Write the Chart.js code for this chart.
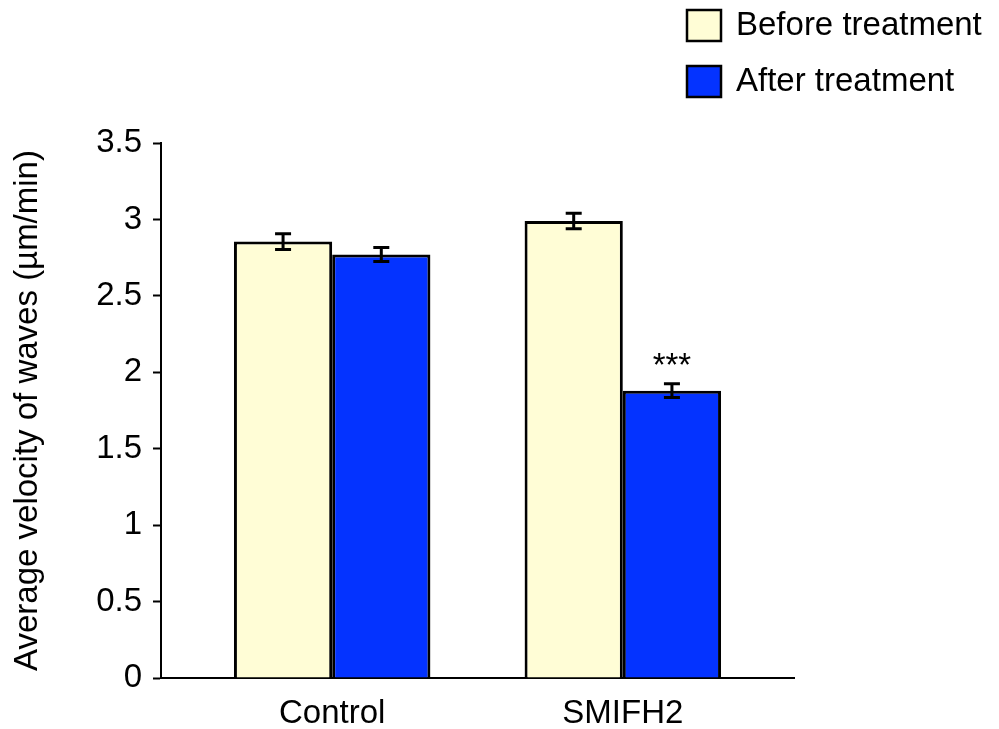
<!DOCTYPE html>
<html>
<head>
<meta charset="utf-8">
<script src="https://cdn.jsdelivr.net/npm/chart.js@4/dist/chart.umd.min.js"></script>
<style>
html,body{margin:0;padding:0;background:#fff;}
#wrap{width:999px;height:729px;position:relative;}
</style>
</head>
<body>
<div id="wrap"><canvas id="c"></canvas></div>
<script>
// ---- data ----
const categories = ['Control', 'SMIFH2'];
const seriesNames = ['Before treatment', 'After treatment'];
const beforeValues = [2.855, 2.99];
const afterValues = [2.77, 1.88];
const beforeErrors = [0.052, 0.051];
const afterErrors = [0.046, 0.045];
const significance = ['', '***']; // for the "after" series
const yTicks = [0, 0.5, 1, 1.5, 2, 2.5, 3, 3.5];
const yTitle = 'Average velocity of waves (\u00b5m/min)';

const FONT = '"Liberation Sans", Arial, sans-serif';
const beforeColor = '#FFFDD6';
const afterColor = '#0433FF';

function toPoints(vals){ return vals.map((v,i)=>({x:i+1, y:v})); }

const errorBarPlugin = {
  id: 'errorBars',
  afterDatasetsDraw(chart){
    const ctx = chart.ctx;
    const y = chart.scales.y;
    const errs = [beforeErrors, afterErrors];
    ctx.save();
    ctx.strokeStyle = '#000';
    ctx.lineWidth = 3;
    chart.data.datasets.forEach((ds, di) => {
      const meta = chart.getDatasetMeta(di);
      meta.data.forEach((bar, i) => {
        const v = ds.data[i].y, e = errs[di][i];
        const yt = y.getPixelForValue(v + e), yb = y.getPixelForValue(v - e);
        const x = bar.x, hw = 8;
        ctx.beginPath();
        ctx.moveTo(x, yt); ctx.lineTo(x, yb);
        ctx.moveTo(x-hw, yt); ctx.lineTo(x+hw, yt);
        ctx.moveTo(x-hw, yb); ctx.lineTo(x+hw, yb);
        ctx.stroke();
        if (di === 1 && significance[i]) {
          ctx.fillStyle = '#000';
          ctx.font = '33px ' + FONT;
          ctx.textAlign = 'center';
          ctx.textBaseline = 'alphabetic';
          ctx.fillText(significance[i], x, yt - 8);
        }
      });
    });
    ctx.restore();
  }
};

const legendPlugin = {
  id: 'customLegend',
  afterDraw(chart){
    const ctx = chart.ctx;
    ctx.save();
    const colors = [beforeColor, afterColor];
    const rows = [10, 66];
    seriesNames.forEach((name, i) => {
      const top = rows[i];
      ctx.fillStyle = colors[i];
      ctx.fillRect(687, top, 34, 31);
      ctx.strokeStyle = '#000';
      ctx.lineWidth = 2.5;
      ctx.strokeRect(687, top, 34, 31);
      ctx.fillStyle = '#000';
      ctx.font = '33px ' + FONT;
      ctx.textAlign = 'left';
      ctx.textBaseline = 'middle';
      ctx.fillText(name, 736, top + 16);
    });
    ctx.restore();
  }
};

new Chart(document.getElementById('c'), {
  type: 'bar',
  data: {
    datasets: [
      { label: seriesNames[0], data: toPoints(beforeValues), backgroundColor: beforeColor,
        borderColor: '#000', borderWidth: 3, borderSkipped: 'bottom' },
      { label: seriesNames[1], data: toPoints(afterValues), backgroundColor: afterColor,
        borderColor: '#000', borderWidth: 3, borderSkipped: 'bottom' }
    ]
  },
  options: {
    responsive: true,
    maintainAspectRatio: false,
    animation: false,
    categoryPercentage: 0.676,
    barPercentage: 1.0,
    layout: { padding: { top: 143, right: 205, left: 0, bottom: 0 } },
    plugins: { legend: { display: false }, tooltip: { enabled: false } },
    scales: {
      x: {
        type: 'linear',
        min: 0.411, max: 2.589,
        offset: false,
        afterBuildTicks(scale){ scale.ticks = categories.map((c,i)=>({value:i+1})); },
        afterFit(scale){ scale.height = 51; },
        grid: { display: false, drawTicks: false, tickLength: 0, offset: false },
        border: { display: true, color: '#000', width: 2 },
        ticks: {
          color: '#000', font: { family: FONT, size: 33 }, padding: 16,
          maxRotation: 0, autoSkip: false,
          callback: (v) => categories[Math.round(v) - 1] || ''
        }
      },
      y: {
        min: 0, max: 3.5,
        afterBuildTicks(scale){ scale.ticks = yTicks.map(v=>({value:v})); },
        afterFit(scale){ scale.width = 161; },
        grid: { display: true, drawOnChartArea: false, drawTicks: true, tickLength: 8,
                tickColor: '#000', tickWidth: 2 },
        border: { display: true, color: '#000', width: 2 },
        ticks: { color: '#000', font: { family: FONT, size: 33 }, padding: 11,
                 callback: (v) => String(v) },
        title: { display: true, text: yTitle, color: '#000',
                 font: { family: FONT, size: 33 }, padding: { top: 8, bottom: 0 } }
      }
    }
  },
  plugins: [errorBarPlugin, legendPlugin]
});
</script>
</body>
</html>
